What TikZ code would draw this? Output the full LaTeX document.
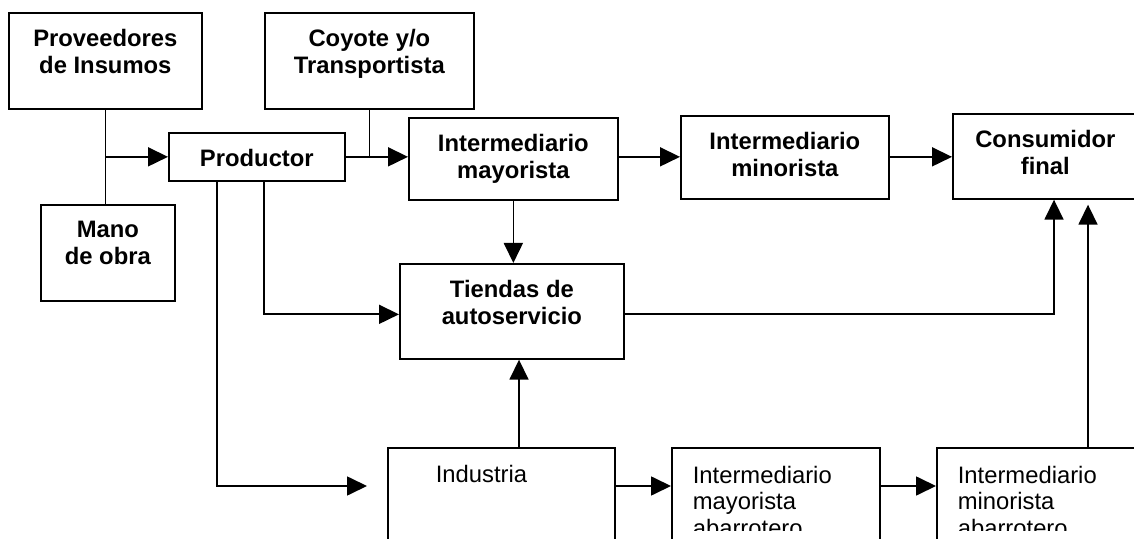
\documentclass[tikz,border=0pt]{standalone}
\usepackage{fontspec}
\setmainfont{Liberation Sans}
\usetikzlibrary{positioning,arrows.meta}

\begin{document}
\begin{tikzpicture}[x=0.5pt, y=-0.5pt, line width=0.85pt]
    \tikzstyle{box}=[draw=black, rectangle, inner sep=0pt, anchor=north west]
    \tikzstyle{boldtxt}=[inner sep=0pt, align=center,
                % Arial bold look:
                font=\fontsize{11.9}{13.5}\selectfont\bfseries]
    \tikzstyle{plaintxt}=[inner sep=0pt, align=left,
                font=\fontsize{11.9}{13.4}\selectfont]
    \tikzstyle{arr}=[-{Triangle[length=10pt, width=9.5pt]}]

    \useasboundingbox (0,0) rectangle (1134,539);
    \clip (0,0) rectangle (1134,539);

    % upper chain
    \node[box, minimum width=96.5pt, minimum height=48pt] (prov) at (8,12) {};
    \node[box, minimum width=104.5pt, minimum height=48pt] (coyote) at (264,12) {};
    \node[box, minimum width=88pt, minimum height=24pt] (prod) at (168,132) {};
    \node[box, minimum width=104.5pt, minimum height=41pt] (mayor) at (408,117) {};
    \node[box, minimum width=104pt, minimum height=41.5pt] (minor) at (680,115) {};
    \node[box, minimum width=92.5pt, minimum height=42.5pt] (consum) at (952,113) {};
    \node[box, minimum width=67pt, minimum height=48pt] (mano) at (40,204) {};
    \node[box, minimum width=112pt, minimum height=47.5pt] (tiendas) at (399,263) {};

    \node[boldtxt, below=8pt of prov.north] (prov-t) {Proveedores\\de Insumos};
    \node[boldtxt, below=8pt of coyote.north] (coyote-t) {Coyote y/o\\Transportista};
    \node[boldtxt, below=8pt of prod.north] (prod-t) {Productor};
    \node[boldtxt, below=8pt of mayor.north] (mayor-t) {Intermediario\\mayorista};
    \node[boldtxt, below=8pt of minor.north] (minor-t) {Intermediario\\minorista};
    \node[boldtxt, below=8pt of consum.north] (consum-t) {Consumidor\\final};
    \node[boldtxt, below=8pt of mano.north] (mano-t) {Mano\\de obra};
    \node[boldtxt, below=8pt of tiendas.north] (tiendas-t) {Tiendas de\\autoservicio};

    % lower chain
    \node[box, minimum width=113.5pt, minimum height=60pt] (indus) at (387,447) {};
    \node[box, minimum width=104pt, minimum height=60pt] (mayab) at (671,447) {};
    \node[box, minimum width=110pt, minimum height=60pt] (minab) at (936,447) {};

    \begin{scope}
        \clip (0,0) rectangle (1134,530);
        \node[plaintxt, below right=8.5pt and 24pt of indus.north west] (indus-t) {Industria};
        \node[plaintxt, below right=9pt and 10.5pt of mayab.north west] (mayab-t) {Intermediario\\mayorista\\abarrotero};
        \node[plaintxt, below right=9pt and 10.5pt of minab.north west] (minab-t) {Intermediario\\minorista\\abarrotero};
    \end{scope}

    % connectors
    \coordinate (jprov) at (prov.south |- prod.west);
    \coordinate (jcoy) at (coyote.south |- prod.east);
    \coordinate (pa) at ([xshift=24.5pt]prod.south west);
    \coordinate (pb) at ([xshift=48pt]prod.south west);
    \coordinate (tw) at ([yshift=-1.5pt]tiendas.west);
    \coordinate (te) at ([yshift=-1.5pt]tiendas.east);
    \coordinate (cb1) at ([xshift=51pt]consum.south west);
    \coordinate (iu) at ([xshift=66pt]indus.north west);
    \coordinate (ie) at ([yshift=-19.5pt]indus.north east);
    \coordinate (me) at ([yshift=-19.5pt]mayab.north east);
    \coordinate (mu) at ([xshift=76pt]minab.north west);

    \draw (prov.south) -- (prov.south |- mano.north);
    \draw[arr] (jprov) -- (prod.west);
    \draw (coyote.south) -- (jcoy);
    \draw[arr] (prod.east) -- (prod.east -| mayor.west);
    \draw[arr] (mayor.east |- prod.east) -- (minor.west |- prod.east);
    \draw[arr] (minor.east |- prod.east) -- (consum.west |- prod.east);
    \draw[arr] (mayor.south) -- (mayor.south |- tiendas.north);
    \draw[arr] (pb) |- (tw);
    \draw[arr, shorten >=10pt] (pa) |- (indus.west |- ie);
    \draw[arr] (te) -| (cb1);
    \draw[arr] (iu) -- (iu |- tiendas.south);
    \draw[arr] (ie) -- (ie -| mayab.west);
    \draw[arr] (me) -- (me -| minab.west);
    \draw[arr, shorten >=2.5pt] (mu) -- (mu |- consum.south);
\end{tikzpicture}
\end{document}
